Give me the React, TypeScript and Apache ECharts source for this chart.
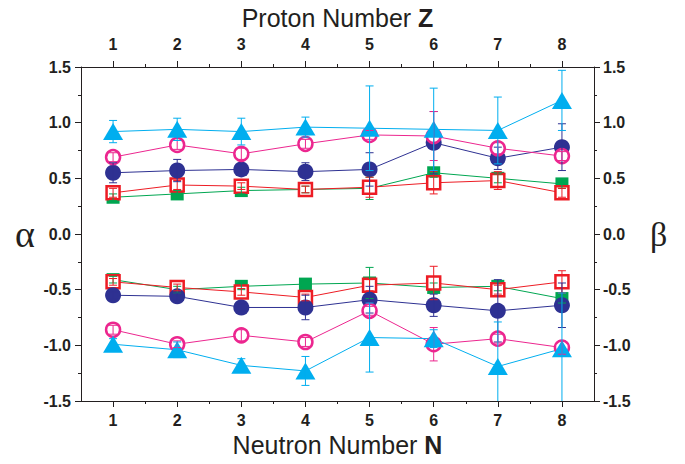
import React, { useEffect, useRef } from "react";
import * as echarts from "echarts";

const N = [1, 2, 3, 4, 5, 6, 7, 8];
const majorTicks = [1, 2, 3, 4, 5, 6, 7, 8];
const minorTicksX = [1.5, 2.5, 3.5, 4.5, 5.5, 6.5, 7.5];

// upper group
const cyanHi = [0.92, 0.94, 0.92, 0.96, 0.95, 0.94, 0.93, 1.2];
const cyanHiErr = [0.1, 0.1, 0.12, 0.09, 0.38, 0.37, 0.3, 0.27];
const magHi = [0.69, 0.8, 0.72, 0.81, 0.89, 0.88, 0.77, 0.7];
const magHiErr = [0.04, 0.04, 0.05, 0.04, 0.04, 0.22, 0.05, 0.04];
const navyHi = [0.55, 0.57, 0.58, 0.56, 0.58, 0.82, 0.68, 0.78];
const navyHiErr = [0.09, 0.1, 0.05, 0.08, 0.15, 0.28, 0.1, 0.21];
const greenHi = [0.33, 0.36, 0.39, 0.4, 0.41, 0.55, 0.5, 0.45];
const greenHiErr = [0.03, 0.03, 0.03, 0.03, 0.1, 0.04, 0.04, 0.04];
const redHi = [0.37, 0.44, 0.43, 0.4, 0.42, 0.46, 0.48, 0.37];
const redHiErr = [0.04, 0.04, 0.03, 0.03, 0.09, 0.1, 0.08, 0.04];

// lower group
const cyanLo = [-0.99, -1.04, -1.18, -1.23, -0.93, -0.94, -1.19, -1.03];
const cyanLoErr = [0.05, 0.07, 0.06, 0.13, 0.31, 0.08, 0.4, 0.5];
const magLo = [-0.86, -0.99, -0.91, -0.97, -0.69, -0.99, -0.94, -1.02];
const magLoErr = [0.04, 0.03, 0.05, 0.04, 0.04, 0.15, 0.04, 0.06];
const navyLo = [-0.55, -0.56, -0.66, -0.66, -0.59, -0.64, -0.69, -0.64];
const navyLoErr = [0.03, 0.03, 0.03, 0.11, 0.12, 0.1, 0.28, 0.2];
const greenLo = [-0.41, -0.5, -0.47, -0.45, -0.44, -0.48, -0.47, -0.58];
const greenLoErr = [0.03, 0.03, 0.03, 0.03, 0.14, 0.04, 0.04, 0.04];
const redLo = [-0.43, -0.48, -0.52, -0.57, -0.46, -0.44, -0.5, -0.43];
const redLoErr = [0.03, 0.03, 0.03, 0.03, 0.05, 0.15, 0.04, 0.1];

const CYAN = "#00AEEF";
const MAG = "#EC268F";
const NAVY = "#2E3192";
const GREEN = "#00A651";
const RED = "#ED1C24";
const INK = "#231F20";

type Spec = {
  name: string;
  vals: number[];
  errs: number[];
  color: string;
  symbol: string;
  size: number | number[];
  open: boolean;
};

const specs: Spec[] = [
  { name: "greenHi", vals: greenHi, errs: greenHiErr, color: GREEN, symbol: "rect", size: 13, open: false },
  { name: "redHi", vals: redHi, errs: redHiErr, color: RED, symbol: "rect", size: 13, open: true },
  { name: "navyHi", vals: navyHi, errs: navyHiErr, color: NAVY, symbol: "circle", size: 16, open: false },
  { name: "magHi", vals: magHi, errs: magHiErr, color: MAG, symbol: "circle", size: 14, open: true },
  { name: "cyanHi", vals: cyanHi, errs: cyanHiErr, color: CYAN, symbol: "triangle", size: [20, 17], open: false },
  { name: "greenLo", vals: greenLo, errs: greenLoErr, color: GREEN, symbol: "rect", size: 13, open: false },
  { name: "redLo", vals: redLo, errs: redLoErr, color: RED, symbol: "rect", size: 13, open: true },
  { name: "navyLo", vals: navyLo, errs: navyLoErr, color: NAVY, symbol: "circle", size: 16, open: false },
  { name: "magLo", vals: magLo, errs: magLoErr, color: MAG, symbol: "circle", size: 14, open: true },
  { name: "cyanLo", vals: cyanLo, errs: cyanLoErr, color: CYAN, symbol: "triangle", size: [20, 17], open: false },
];

const SANS = "Liberation Sans, Arial, sans-serif";
const labelFont = {
  fontFamily: SANS,
  fontWeight: "bold" as const,
  fontSize: 16,
  color: INK,
};

const nameStyle = {
  fontFamily: SANS,
  fontSize: 25,
  color: INK,
  rich: { b: { fontFamily: SANS, fontSize: 25, fontWeight: "bold", color: INK } },
};

export default function App() {
  const ref = useRef<HTMLDivElement>(null);
  useEffect(() => {
    if (!ref.current) return;
    const chart = echarts.init(ref.current, undefined, { renderer: "svg" });

    const series: any[] = [];
    specs.forEach((s) => {
      series.push({
        type: "line",
        name: s.name,
        xAxisIndex: 0,
        yAxisIndex: 0,
        data: N.map((n, i) => [n, s.vals[i]]),
        symbol: s.symbol,
        symbolSize: s.size,
        showSymbol: true,
        lineStyle: { color: s.color, width: 1 },
        itemStyle: s.open
          ? { color: "#ffffff", borderColor: s.color, borderWidth: 2.5 }
          : { color: s.color, borderWidth: 0 },
        z: 2,
      });
    });
    specs.forEach((s) => {
      series.push({
        type: "custom",
        name: s.name + "Err",
        xAxisIndex: 0,
        yAxisIndex: 0,
        clip: true,
        z: 3,
        data: N.map((n, i) => [n, s.vals[i], s.errs[i]]),
        encode: { x: 0, y: 1 },
        renderItem: (params: any, api: any) => {
          const x = api.value(0);
          const y = api.value(1);
          const e = api.value(2);
          const top = api.coord([x, y + e]);
          const bot = api.coord([x, y - e]);
          const hw = 4;
          const st = { stroke: s.color, lineWidth: 1 };
          return {
            type: "group",
            children: [
              { type: "line", shape: { x1: top[0], y1: top[1], x2: bot[0], y2: bot[1] }, style: st },
              { type: "line", shape: { x1: top[0] - hw, y1: top[1], x2: top[0] + hw, y2: top[1] }, style: st },
              { type: "line", shape: { x1: bot[0] - hw, y1: bot[1], x2: bot[0] + hw, y2: bot[1] }, style: st },
            ],
          };
        },
      });
    });

    const axisLine = { show: true, onZero: false, lineStyle: { color: INK, width: 1 } };
    const tickStyle = { color: INK, width: 1 };

    const option: any = {
      animation: false,
      backgroundColor: "#ffffff",
      grid: { left: 81, right: 91, top: 62, bottom: 63, containLabel: false },
      xAxis: [
        {
          type: "value",
          position: "bottom",
          min: 0.5,
          max: 8.5,
          axisLine,
          splitLine: { show: false },
          axisTick: { show: true, customValues: majorTicks, length: 6, inside: false, lineStyle: tickStyle },
          axisLabel: { ...labelFont, customValues: majorTicks, margin: 11, formatter: (v: number) => String(v) },
          name: "Neutron Number {b|N}",
          nameLocation: "middle",
          nameGap: 28,
          nameTextStyle: nameStyle,
        },
        {
          type: "value",
          position: "top",
          min: 0.5,
          max: 8.5,
          axisLine,
          splitLine: { show: false },
          axisTick: { show: true, customValues: majorTicks, length: 6, inside: false, lineStyle: tickStyle },
          axisLabel: { ...labelFont, customValues: majorTicks, margin: 15, formatter: (v: number) => String(v) },
          name: "Proton Number {b|Z}",
          nameLocation: "middle",
          nameGap: 37,
          nameTextStyle: nameStyle,
        },
        {
          type: "value",
          position: "bottom",
          min: 0.5,
          max: 8.5,
          axisLine: { show: false, onZero: false },
          splitLine: { show: false },
          axisTick: { show: true, customValues: minorTicksX, length: 3, inside: false, lineStyle: tickStyle },
          axisLabel: { show: false },
        },
        {
          type: "value",
          position: "top",
          min: 0.5,
          max: 8.5,
          axisLine: { show: false, onZero: false },
          splitLine: { show: false },
          axisTick: { show: true, customValues: minorTicksX, length: 3, inside: false, lineStyle: tickStyle },
          axisLabel: { show: false },
        },
      ],
      yAxis: [
        {
          type: "value",
          position: "left",
          min: -1.5,
          max: 1.5,
          interval: 0.5,
          axisLine,
          splitLine: { show: false },
          axisTick: { show: true, length: 6, inside: false, lineStyle: tickStyle },
          minorTick: { show: true, splitNumber: 2, length: 3, lineStyle: tickStyle },
          axisLabel: { ...labelFont, margin: 10, formatter: (v: number) => v.toFixed(1) },
          name: "α",
          nameLocation: "middle",
          nameGap: 46,
          nameRotate: 0,
          nameTextStyle: { fontFamily: "Liberation Serif, Times New Roman, serif", fontSize: 38, color: INK },
        },
        {
          type: "value",
          position: "right",
          min: -1.5,
          max: 1.5,
          interval: 0.5,
          axisLine,
          splitLine: { show: false },
          axisTick: { show: true, length: 6, inside: false, lineStyle: tickStyle },
          minorTick: { show: true, splitNumber: 2, length: 3, lineStyle: tickStyle },
          axisLabel: { ...labelFont, margin: 9, formatter: (v: number) => v.toFixed(1) },
          name: "β",
          nameLocation: "middle",
          nameGap: 56,
          nameRotate: 0,
          nameTextStyle: { fontFamily: "Liberation Serif, Times New Roman, serif", fontSize: 34, color: INK },
        },
      ],
      series,
    };
    chart.setOption(option);
    return () => chart.dispose();
  }, []);
  return (
    <div
      ref={ref}
      style={{ position: "fixed", left: 0, top: 0, width: 685, height: 464, background: "#fff" }}
    />
  );
}
